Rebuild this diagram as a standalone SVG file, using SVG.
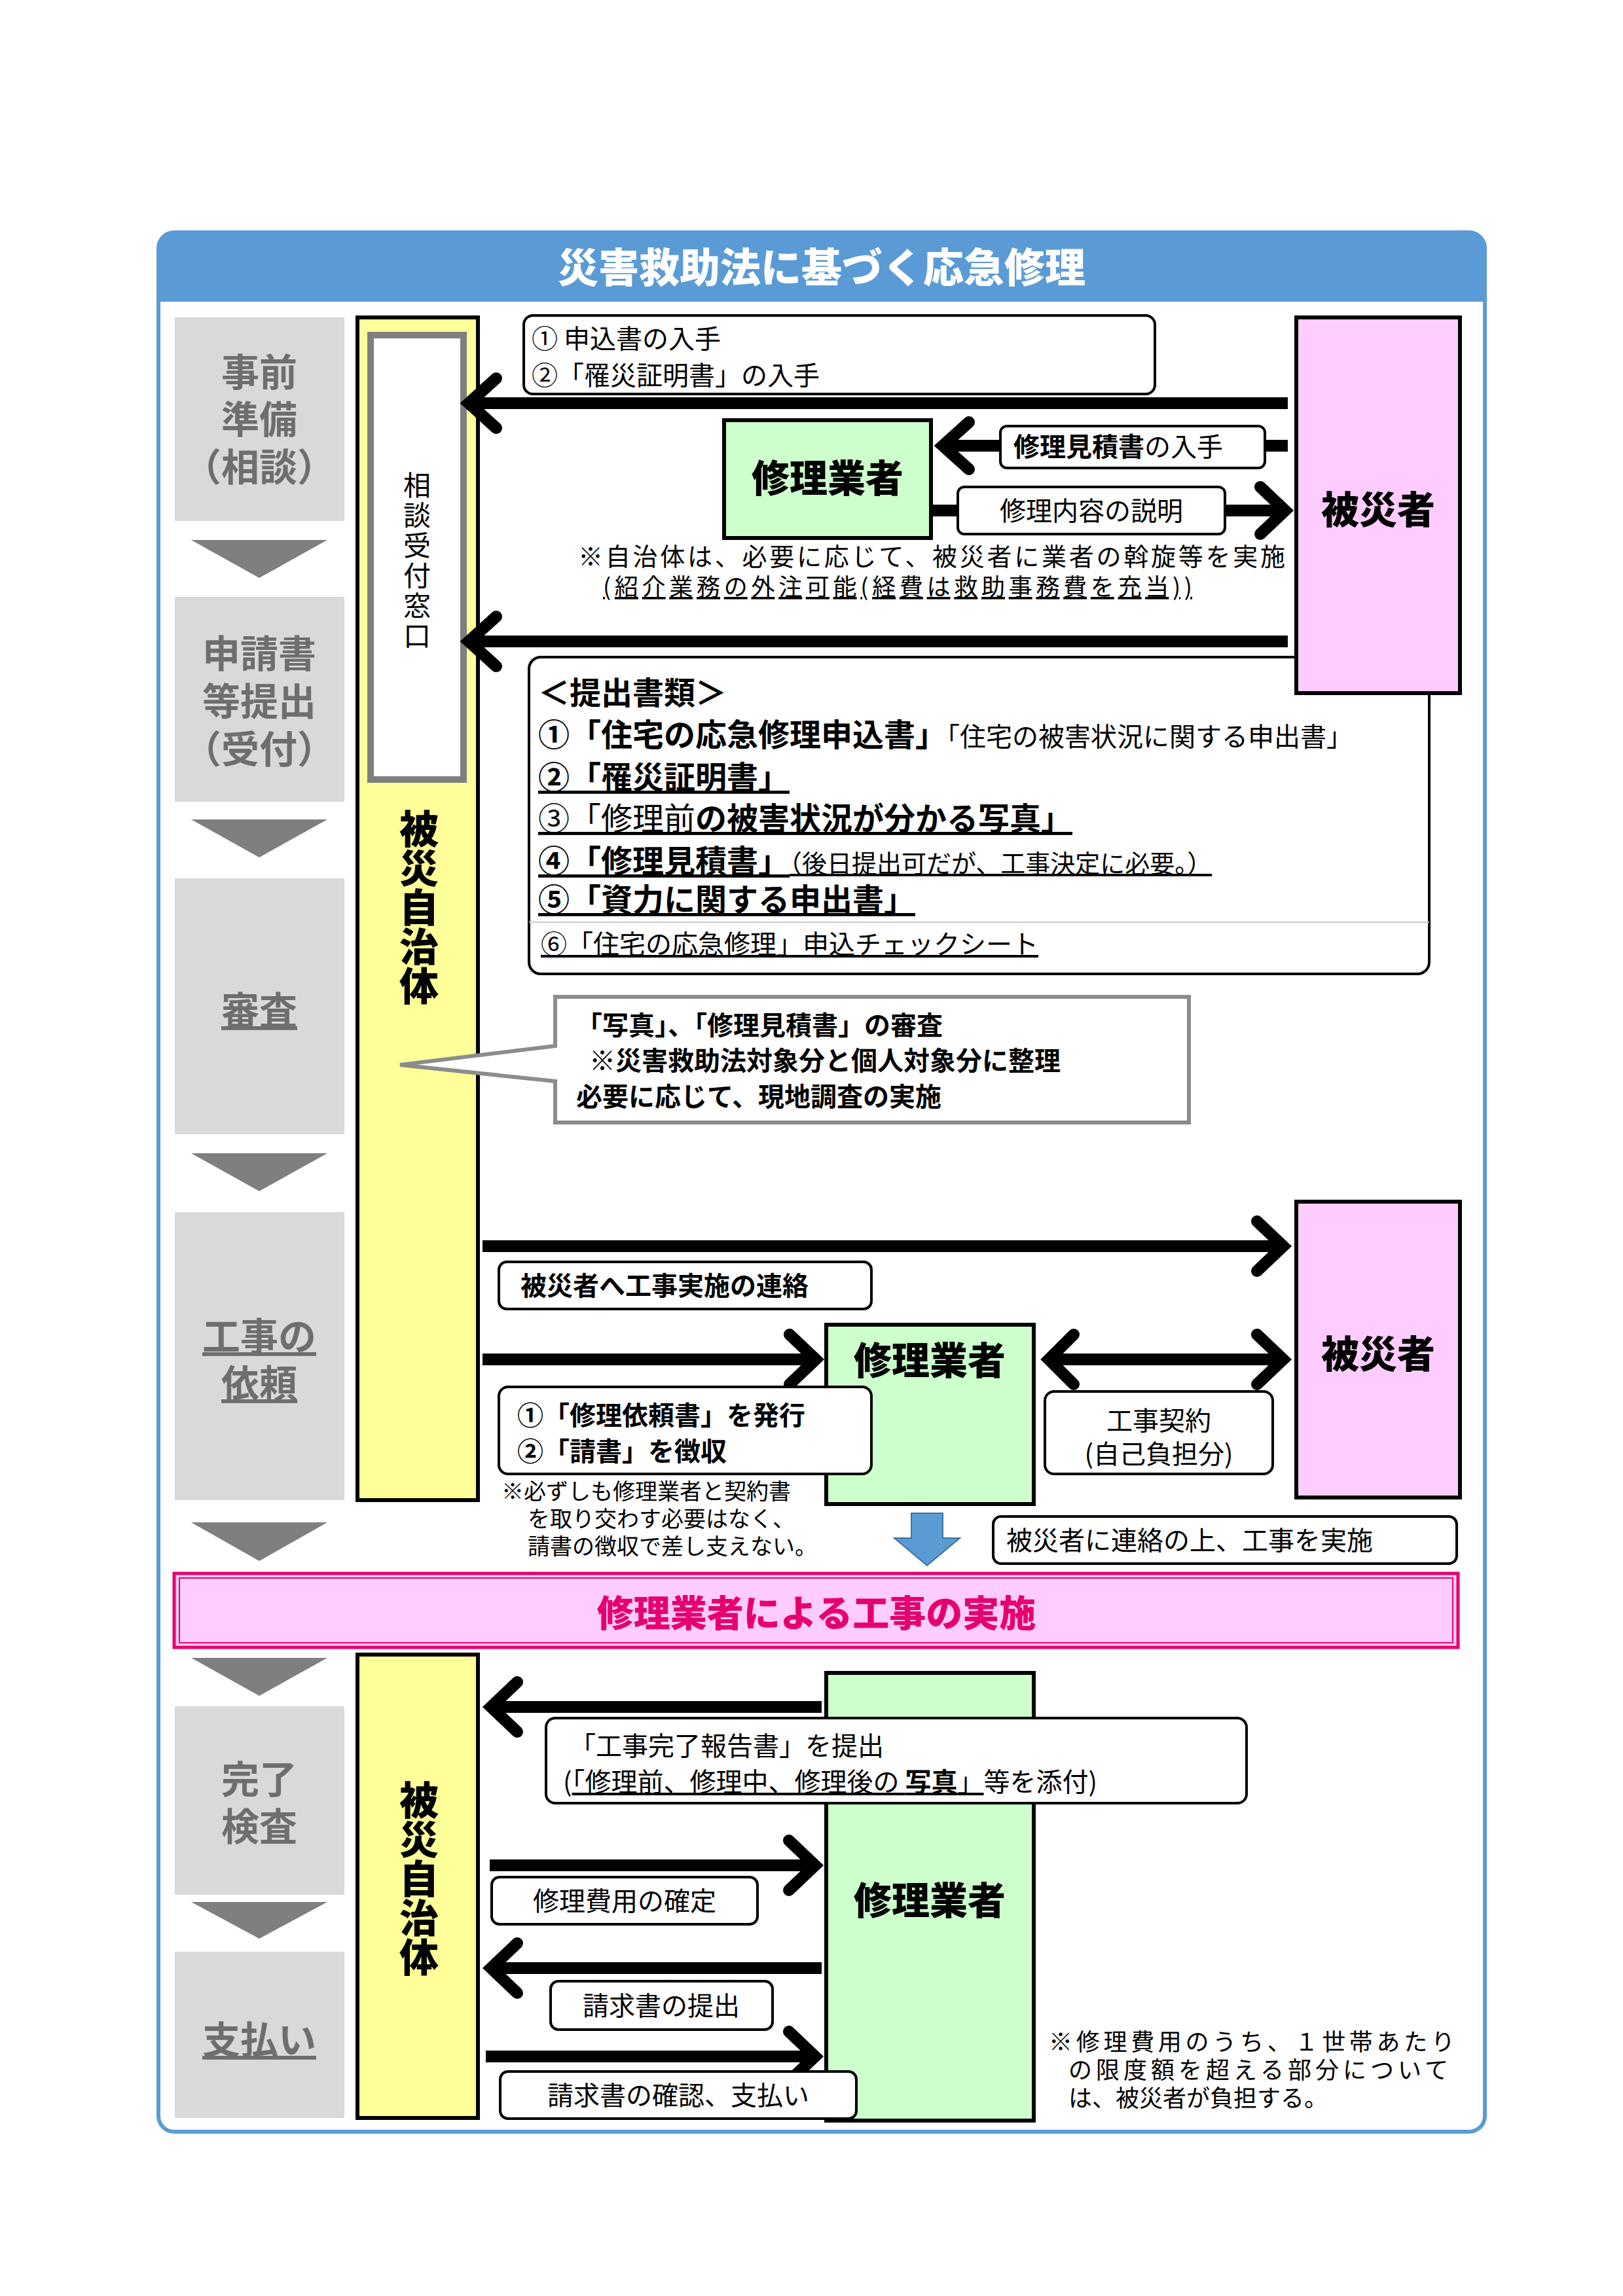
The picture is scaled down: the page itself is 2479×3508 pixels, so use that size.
<svg xmlns="http://www.w3.org/2000/svg" width="2479" height="3508" viewBox="0 0 2479 3508">
<style>
text{font-family:"Noto Sans CJK JP","Noto Sans",sans-serif;fill:#000}
.stage{fill:#d9d9d9}
.st{font-size:58px;font-weight:700;fill:#6e6e6e;text-anchor:middle}
.tri{fill:#7f7f7f}
.yel{fill:#ffff99;stroke:#000;stroke-width:6}
.pink{fill:#ffccff;stroke:#000;stroke-width:6}
.green{fill:#ccffcc;stroke:#000;stroke-width:6}
.lbl{fill:#fff;stroke:#000;stroke-width:4}
.big{font-size:58px;font-weight:900;text-anchor:middle}
.t40{font-size:40px}
.b40{font-size:40px;font-weight:700}
.b48{font-size:48px;font-weight:700}
.n36{font-size:34px}
.ln{stroke:#000;stroke-width:18;fill:none}
.hd{stroke:#000;stroke-width:18;fill:none;stroke-linejoin:miter;stroke-linecap:round}
</style>
<rect width="2479" height="3508" fill="#fff"/>
<g id="frame">
<rect x="242" y="355" width="2026" height="2902" rx="24" fill="#fff" stroke="#5b9bd5" stroke-width="6"/>
<path d="M242,461 V379 a24,24 0 0 1 24,-24 H2244 a24,24 0 0 1 24,24 V461 Z" fill="#5b9bd5"/>
<text x="1255" y="432" font-size="62" font-weight="900" text-anchor="middle" style="fill:#fff">災害救助法に基づく応急修理</text>
</g>
<g id="stages">
<rect class="stage" x="267" y="485" width="259" height="311"/>
<text class="st" x="396" y="590">事前</text><text class="st" x="396" y="662">準備</text><text class="st" x="396" y="735">（相談）</text>
<polygon class="tri" points="292,825 500,825 396,883"/>
<rect class="stage" x="267" y="912" width="259" height="313"/>
<text class="st" x="396" y="1020">申請書</text><text class="st" x="396" y="1093">等提出</text><text class="st" x="396" y="1166">（受付）</text>
<polygon class="tri" points="292,1252 500,1252 396,1310"/>
<rect class="stage" x="267" y="1342" width="259" height="391"/>
<text class="st" x="396" y="1565" text-decoration="underline">審査</text>
<polygon class="tri" points="292,1762 500,1762 396,1820"/>
<rect class="stage" x="267" y="1852" width="259" height="440"/>
<text class="st" x="396" y="2063" text-decoration="underline">工事の</text><text class="st" x="396" y="2135" text-decoration="underline">依頼</text>
<polygon class="tri" points="292,2326 500,2326 396,2385"/>
<polygon class="tri" points="292,2533 500,2533 396,2591"/>
<rect class="stage" x="267" y="2607" width="259" height="288"/>
<text class="st" x="396" y="2740">完了</text><text class="st" x="396" y="2812">検査</text>
<polygon class="tri" points="292,2906 500,2906 396,2962"/>
<rect class="stage" x="267" y="2982" width="259" height="254"/>
<text class="st" x="396" y="3138" text-decoration="underline">支払い</text>
</g>
<g id="jichitai1">
<rect class="yel" x="546" y="485" width="184" height="1807"/>
<rect x="566" y="512" width="142" height="679" fill="#fff" stroke="#7f7f7f" stroke-width="10"/>
<rect x="574" y="520" width="126" height="663" fill="none" stroke="#fff" stroke-width="2"/>
<text x="637" y="720" font-size="42" writing-mode="tb" style="letter-spacing:4px">相談受付窓口</text>
<text x="640" y="1236" font-size="60" font-weight="900" writing-mode="tb">被災自治体</text>
</g>
<g id="jichitai2">
<rect class="yel" x="546" y="2528" width="184" height="708"/>
<text x="640" y="2720" font-size="60" font-weight="900" writing-mode="tb">被災自治体</text>
</g>
<g id="documents">
<rect x="808" y="1004" width="1375" height="484" rx="18" fill="#fff" stroke="#000" stroke-width="4"/>
<line x1="808" y1="1409" x2="2183" y2="1409" stroke="#ccc" stroke-width="2"/>
<text class="b48" x="822" y="1076">＜提出書類＞</text>
<text class="b48" x="822" y="1140">①「住宅の応急修理申込書」<tspan font-size="40" font-weight="400">「住宅の被害状況に関する申出書」</tspan></text>
<text class="b48" x="822" y="1205" text-decoration="underline">②「罹災証明書」</text>
<text class="b48" x="822" y="1268" text-decoration="underline"><tspan font-weight="400">③「修理前</tspan>の被害状況が分かる写真」</text>
<text class="b48" x="822" y="1333" text-decoration="underline">④「修理見積書」<tspan font-size="38" font-weight="400">（後日提出可だが、工事決定に必要。）</tspan></text>
<text class="b48" x="822" y="1392" text-decoration="underline">⑤「資力に関する申出書」</text>
<text class="t40" x="826" y="1457" text-decoration="underline">⑥「住宅の応急修理」申込チェックシート</text>
</g>
<g id="hisaisha1"><rect class="pink" x="1980" y="485" width="250" height="574"/><text class="big" x="2105" y="800">被災者</text></g>
<g id="hisaisha2"><rect class="pink" x="1980" y="1836" width="250" height="452"/><text class="big" x="2105" y="2090">被災者</text></g>
<g id="gyosha1"><rect class="green" x="1106" y="642" width="316" height="180"/><text class="big" x="1264" y="752">修理業者</text></g>
<g id="gyosha2"><rect class="green" x="1262" y="2024" width="317" height="274"/><text class="big" x="1420" y="2100">修理業者</text></g>
<g id="gyosha3"><rect class="green" x="1262" y="2556" width="317" height="684"/><text class="big" x="1420" y="2925">修理業者</text></g>
<g id="band">
<rect x="266" y="2404" width="1961" height="113" fill="#ffccff" stroke="#e6006e" stroke-width="5"/>
<rect x="274" y="2411" width="1945" height="99" fill="none" stroke="#e6006e" stroke-width="2"/>
<text x="1247" y="2485" font-size="56" font-weight="900" text-anchor="middle" style="fill:#e6006e">修理業者による工事の実施</text>
</g>
<g id="connectors">
<line class="ln" x1="1967" y1="616" x2="720" y2="616"/><polyline class="hd" points="758,578 716,616 758,654"/>
<line class="ln" x1="1967" y1="681" x2="1450" y2="681"/><polyline class="hd" points="1480,645 1440,681 1480,717"/>
<line class="ln" x1="1425" y1="780" x2="1955" y2="780"/><polyline class="hd" points="1925,744 1963,780 1925,816"/>
<line class="ln" x1="1967" y1="980" x2="720" y2="980"/><polyline class="hd" points="758,942 716,980 758,1018"/>
<line class="ln" x1="737" y1="1904" x2="1955" y2="1904"/><polyline class="hd" points="1920,1866 1960,1904 1920,1942"/>
<line class="ln" x1="737" y1="2077" x2="1240" y2="2077"/><polyline class="hd" points="1206,2039 1246,2077 1206,2115"/>
<line class="ln" x1="1610" y1="2077" x2="1955" y2="2077"/><polyline class="hd" points="1920,2039 1960,2077 1920,2115"/><polyline class="hd" points="1640,2039 1602,2077 1640,2115"/>
<polygon points="1392,2312 1440,2312 1440,2350 1466,2350 1416,2392 1366,2350 1392,2350" fill="#5b9bd5" stroke="#41719c" stroke-width="2"/>
<line class="ln" x1="1255" y1="2608" x2="752" y2="2608"/><polyline class="hd" points="790,2570 750,2608 790,2646"/>
<line class="ln" x1="748" y1="2850" x2="1238" y2="2850"/><polyline class="hd" points="1205,2812 1245,2850 1205,2888"/>
<line class="ln" x1="1255" y1="3007" x2="752" y2="3007"/><polyline class="hd" points="790,2969 750,3007 790,3045"/>
<line class="ln" x1="742" y1="3142" x2="1238" y2="3142"/><polyline class="hd" points="1205,3104 1245,3142 1205,3180"/>
</g>
<g id="labels">
<rect class="lbl" x="800" y="482" width="964" height="120" rx="14"/>
<text class="t40" x="812" y="532">① 申込書の入手</text>
<text class="t40" x="812" y="588">②「罹災証明書」の入手</text>
<rect class="lbl" x="1528" y="651" width="404" height="64" rx="10"/>
<text class="b40" x="1548" y="697">修理見積書<tspan font-weight="400">の入手</tspan></text>
<rect class="lbl" x="1463" y="744" width="408" height="72" rx="10"/>
<text class="t40" x="1667" y="795" text-anchor="middle">修理内容の説明</text>
<text x="883" y="864" font-size="38" textLength="1080">※自治体は、必要に応じて、被災者に業者の斡旋等を実施</text>
<text x="921" y="910" font-size="36" textLength="900" text-decoration="underline">(紹介業務の外注可能(経費は救助事務費を充当))</text>
<polygon points="848,1523 1816,1523 1816,1715 848,1715 848,1652 611,1627 848,1598" fill="#fff" stroke="#8c8c8c" stroke-width="6"/>
<text class="b40" x="880" y="1581">「写真」、「修理見積書」の審査</text>
<text class="b40" x="900" y="1635">※災害救助法対象分と個人対象分に整理</text>
<text class="b40" x="880" y="1690">必要に応じて、現地調査の実施</text>
<rect class="lbl" x="762" y="1928" width="569" height="72" rx="12"/>
<text class="b40" x="795" y="1979">被災者へ工事実施の連絡</text>
<rect class="lbl" x="762" y="2119" width="569" height="133" rx="14"/>
<text class="b40" x="790" y="2177">①「修理依頼書」を発行</text>
<text class="b40" x="790" y="2232">②「請書」を徴収</text>
<rect class="lbl" x="1596" y="2126" width="348" height="126" rx="14"/>
<text class="t40" x="1770" y="2185" text-anchor="middle">工事契約</text>
<text class="t40" x="1770" y="2236" text-anchor="middle">(自己負担分)</text>
<text class="n36" x="766" y="2291">※必ずしも修理業者と契約書</text>
<text class="n36" x="806" y="2333">を取り交わす必要はなく、</text>
<text class="n36" x="806" y="2375">請書の徴収で差し支えない。</text>
<rect class="lbl" x="1517" y="2317" width="708" height="72" rx="12"/>
<text class="t40" x="1537" y="2368">被災者に連絡の上、工事を実施</text>
<rect class="lbl" x="834" y="2625" width="1070" height="130" rx="14"/>
<text class="t40" x="870" y="2682">「工事完了報告書」を提出</text>
<text class="t40" x="860" y="2737">(<tspan text-decoration="underline">「修理前、修理中、修理後の <tspan font-weight="700">写真</tspan>」</tspan>等を添付)</text>
<rect class="lbl" x="751" y="2868" width="406" height="72" rx="12"/>
<text class="t40" x="954" y="2919" text-anchor="middle">修理費用の確定</text>
<rect class="lbl" x="841" y="3027" width="339" height="74" rx="12"/>
<text class="t40" x="1010" y="3079" text-anchor="middle">請求書の提出</text>
<rect class="lbl" x="764" y="3165" width="544" height="72" rx="12"/>
<text class="t40" x="1036" y="3216" text-anchor="middle">請求書の確認、支払い</text>
<text x="1602" y="3133" font-size="36" textLength="620">※修理費用のうち、１世帯あたり</text>
<text x="1632" y="3176" font-size="36" textLength="580">の限度額を超える部分について</text>
<text x="1632" y="3219" font-size="36">は、被災者が負担する。</text>
</g>
</svg>
